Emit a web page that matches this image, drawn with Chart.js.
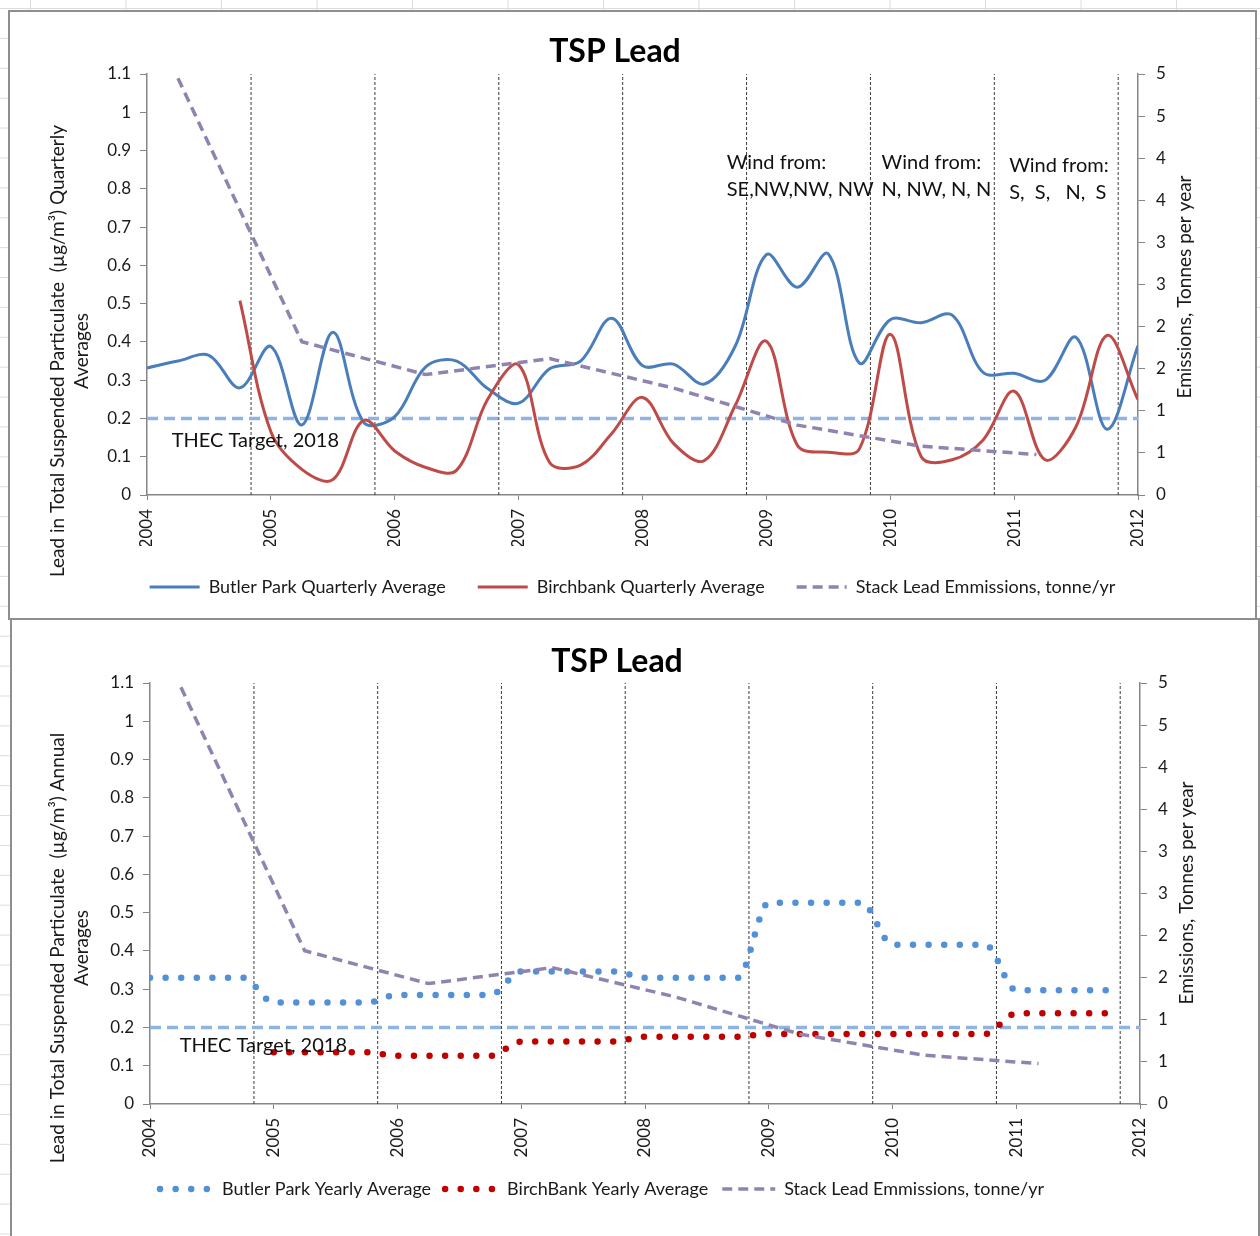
<!DOCTYPE html>
<html>
<head>
<meta charset="utf-8">
<title>TSP Lead</title>
<script src="https://cdn.jsdelivr.net/npm/chart.js@4.4.1/dist/chart.umd.min.js"></script>
<style>
  html, body { margin: 0; padding: 0; }
  body {
    width: 1260px; height: 1236px; overflow: hidden; position: relative;
    background-color: #fff;
    /* spreadsheet cell grid peeking out round the charts */
    background-image:
      linear-gradient(to right, #dcdcdc 1px, transparent 1px),
      linear-gradient(to bottom, #dcdcdc 1px, transparent 1px);
    background-size: 95.5px 100%, 100% 29.9px;
    background-position: 30px 0, 0 8px;
  }
  .frame { position: absolute; background: #fff; outline: 2px solid #8e8e8e; }
  #topFrame { left: 10px; top: 12px; width: 1245px; height: 606px; }
  #bottomFrame { left: 12px; top: 620px; width: 1246px; height: 620px; }
  canvas { display: block; }
</style>
</head>
<body>
<div class="frame" id="topFrame"><canvas id="quarterlyChart" width="1245" height="606"></canvas></div>
<div class="frame" id="bottomFrame"><canvas id="yearlyChart" width="1246" height="620"></canvas></div>

<script>
// ---------- data ----------
const yearTicks = ['2004', '2005', '2006', '2007', '2008', '2009', '2010', '2011', '2012'];
const leftTicks = ['0', '0.1', '0.2', '0.3', '0.4', '0.5', '0.6', '0.7', '0.8', '0.9', '1', '1.1'];
const rightTicks = ['0', '1', '1', '2', '2', '3', '3', '4', '4', '5', '5'];

const quarters = [
  '2004-Q1', '2004-Q2', '2004-Q3', '2004-Q4',
  '2005-Q1', '2005-Q2', '2005-Q3', '2005-Q4',
  '2006-Q1', '2006-Q2', '2006-Q3', '2006-Q4',
  '2007-Q1', '2007-Q2', '2007-Q3', '2007-Q4',
  '2008-Q1', '2008-Q2', '2008-Q3', '2008-Q4',
  '2009-Q1', '2009-Q2', '2009-Q3', '2009-Q4',
  '2010-Q1', '2010-Q2', '2010-Q3', '2010-Q4',
  '2011-Q1', '2011-Q2', '2011-Q3', '2011-Q4',
  '2012-Q1'
];

// µg/m³, one value per quarter
const butlerQuarterly = [
  0.332, 0.350, 0.365, 0.280,
  0.388, 0.183, 0.425, 0.190,
  0.205, 0.335, 0.350, 0.278,
  0.240, 0.330, 0.350, 0.462,
  0.338, 0.342, 0.290, 0.390,
  0.628, 0.543, 0.630, 0.345,
  0.458, 0.450, 0.470, 0.320,
  0.318, 0.300, 0.412, 0.172,
  0.390
];
const birchQuarterly = [
  null, null, null, 0.508,
  0.165, 0.067, 0.040, 0.195,
  0.115, 0.072, 0.065, 0.250,
  0.340, 0.085, 0.078, 0.160,
  0.255, 0.135, 0.090, 0.235,
  0.402, 0.130, 0.112, 0.120,
  0.420, 0.100, 0.092, 0.144,
  0.271, 0.092, 0.179, 0.417,
  0.249
];

// yearly averages, plotted at every quarter of the year
const butlerYearly = [
  0.330, 0.330, 0.330, 0.330,
  0.265, 0.265, 0.265, 0.265,
  0.285, 0.285, 0.285, 0.285,
  0.346, 0.346, 0.346, 0.346,
  0.330, 0.330, 0.330, 0.330,
  0.526, 0.526, 0.526, 0.526,
  0.416, 0.416, 0.416, 0.416,
  0.297, 0.297, 0.297, 0.297,
  null
];
const birchYearly = [
  null, null, null, null,
  0.135, 0.135, 0.135, 0.135,
  0.126, 0.126, 0.126, 0.126,
  0.163, 0.163, 0.163, 0.163,
  0.176, 0.176, 0.176, 0.176,
  0.183, 0.183, 0.183, 0.183,
  0.183, 0.183, 0.183, 0.183,
  0.237, 0.237, 0.237, 0.237,
  null
];

// stack emissions, tonnes per year (right axis)
const emissionYears = [2004.25, 2005.25, 2006.25, 2007.25, 2008.25, 2009.25, 2010.25, 2011.18];
const emissionTonnes = [4.95, 1.82, 1.43, 1.62, 1.27, 0.83, 0.58, 0.48];

const targetLevel = 0.2;
const dividerYears = [2004.84, 2005.84, 2006.84, 2007.84, 2008.84, 2009.84, 2010.84, 2011.84];

// ---------- helpers ----------
const AXIS = '#868686';
const FONT = 'Lato';
Chart.defaults.font.family = FONT;
Chart.defaults.color = '#1a1a1a';

function quarterToYear(q) {
  const [y, n] = q.split('-Q');
  return Number(y) + (Number(n) - 1) / 4;
}
function series(values) {
  return values.map((v, i) => ({ x: quarterToYear(quarters[i]), y: v }));
}
function emissionPoints() {
  return emissionYears.map((x, i) => ({ x, y: emissionTonnes[i] }));
}
function targetPoints() {
  return [{ x: 2004, y: targetLevel }, { x: 2012, y: targetLevel }];
}
function dividerPoints() {
  return dividerYears.flatMap(x => [{ x, y: 0 }, { x, y: 1.1 }, { x, y: null }]);
}

function helperSets() {
  return [
    { label: '', data: targetPoints(), borderColor: '#8EB4E3', borderWidth: 3.5,
      borderDash: [11, 6], pointRadius: 0, order: 5 },
    { label: '', data: dividerPoints(), borderColor: '#3a3a3a', borderWidth: 1,
      borderDash: [3, 2], pointRadius: 0, order: 6 }
  ];
}

function scales(L) {
  return {
    x: {
      type: 'linear', min: 2004, max: 2012,
      afterFit: s => { s.height = L.xHeight; },
      grid: { drawOnChartArea: false, tickLength: 5, tickColor: AXIS },
      border: { color: AXIS, width: 1.5 },
      ticks: { stepSize: 1, autoSkip: false, minRotation: 90, maxRotation: 90, padding: 9,
               font: { size: 17 }, callback: (v, i) => yearTicks[i] }
    },
    y: {
      position: 'left', min: 0, max: 1.1,
      afterFit: s => { s.width = L.yWidth; },
      grid: { drawOnChartArea: false, tickLength: 7, tickColor: AXIS },
      border: { color: AXIS, width: 1.5 },
      ticks: { stepSize: 0.1, padding: 9, font: { size: 17 }, callback: (v, i) => leftTicks[i] }
    },
    y2: {
      position: 'right', min: 0, max: 5,
      afterFit: s => { s.width = L.y2Width; },
      grid: { drawOnChartArea: false, tickLength: 7, tickColor: AXIS },
      border: { color: AXIS, width: 1.5 },
      ticks: { stepSize: 0.5, padding: 11, font: { size: 17 }, callback: (v, i) => rightTicks[i] }
    }
  };
}

// title, axis titles and notes drawn as canvas text
const textPlugin = {
  id: 'texts',
  afterDraw(chart, args, o) {
    const { ctx, scales: sc } = chart;
    ctx.save();
    ctx.fillStyle = '#000';
    ctx.textBaseline = 'middle';

    ctx.textAlign = 'center';
    ctx.font = 'bold 32px ' + FONT;
    ctx.fillText(o.title, o.titleX, o.titleY);

    ctx.font = '19px ' + FONT;
    ctx.fillStyle = '#1a1a1a';
    o.leftTitle.forEach((line, i) => {
      ctx.save();
      ctx.translate(o.leftTitleX + i * 24, o.leftTitleY);
      ctx.rotate(-Math.PI / 2);
      ctx.fillText(line, 0, 0);
      ctx.restore();
    });
    ctx.save();
    ctx.translate(o.rightTitleX, o.rightTitleY);
    ctx.rotate(-Math.PI / 2);
    ctx.fillText(o.rightTitle, 0, 0);
    ctx.restore();

    ctx.fillStyle = '#111';
    ctx.textAlign = 'left';
    o.notes.forEach(n => {
      ctx.font = n.size + 'px ' + FONT;
      const px = sc.x.getPixelForValue(n.x);
      const py = sc.y.getPixelForValue(n.y);
      n.lines.forEach((line, i) => ctx.fillText(line, px, py + i * 27));
    });
    ctx.restore();
  }
};

// legend samples keep each series' own dash pattern
function legendOpts(gap, sampleWidth) {
  return {
    position: 'bottom',
    labels: {
      usePointStyle: true, pointStyle: 'line', pointStyleWidth: sampleWidth,
      padding: gap, font: { size: 18 }, color: '#1a1a1a',
      generateLabels: chart => chart.data.datasets
        .map((ds, i) => ({
          text: ds.label, datasetIndex: i, hidden: false,
          strokeStyle: ds.borderColor, fillStyle: ds.borderColor,
          lineWidth: ds.borderWidth, lineDash: ds.borderDash || [],
          lineCap: ds.borderCapStyle || 'butt', pointStyle: 'line', fontColor: '#1a1a1a'
        }))
        .filter(item => item.text !== '')
    }
  };
}

// ---------- quarterly chart ----------
new Chart(document.getElementById('quarterlyChart'), {
  type: 'line',
  data: {
    datasets: [
      { label: 'Butler Park Quarterly Average', data: series(butlerQuarterly),
        borderColor: '#4A7EBB', borderWidth: 3, tension: 0.35, pointRadius: 0, order: 3 },
      { label: 'Birchbank Quarterly Average', data: series(birchQuarterly),
        borderColor: '#BE4B48', borderWidth: 3, tension: 0.35, pointRadius: 0, order: 2 },
      { label: 'Stack Lead Emmissions, tonne/yr', data: emissionPoints(), yAxisID: 'y2',
        borderColor: '#9183AF', borderWidth: 3.5, borderDash: [10, 6], tension: 0, pointRadius: 0, order: 1 },
      ...helperSets()
    ]
  },
  options: {
    responsive: false, animation: false, events: [],
    layout: { padding: { top: 62, bottom: 12, left: 0, right: 0 } },
    scales: scales({ xHeight: 51, yWidth: 137, y2Width: 117 }),
    plugins: {
      legend: legendOpts(32, 50),
      tooltip: { enabled: false },
      texts: {
        title: 'TSP Lead', titleX: 605, titleY: 40,
        leftTitle: ['Lead in Total Suspended Particulate  (\u00b5g/m\u00b3) Quarterly', 'Averages'],
        leftTitleX: 48, leftTitleY: 339,
        rightTitle: 'Emissions, Tonnes per year', rightTitleX: 1175, rightTitleY: 275,
        notes: [
          { x: 2008.68, y: 0.8675, size: 20, lines: ['Wind from:', 'SE,NW,NW, NW'] },
          { x: 2009.93, y: 0.8675, size: 20, lines: ['Wind from:', 'N, NW, N, N'] },
          { x: 2010.96, y: 0.862, size: 20, lines: ['Wind from:', 'S,  S,   N,  S'] },
          { x: 2004.20, y: 0.141, size: 20, lines: ['THEC Target, 2018'] }
        ]
      }
    }
  },
  plugins: [textPlugin]
});

// ---------- yearly chart ----------
new Chart(document.getElementById('yearlyChart'), {
  type: 'line',
  data: {
    datasets: [
      { label: 'Butler Park Yearly Average', data: series(butlerYearly),
        borderColor: '#5290DA', borderWidth: 6.5, borderDash: [0, 15.6], borderCapStyle: 'round',
        cubicInterpolationMode: 'monotone', pointRadius: 0, order: 3 },
      { label: 'BirchBank Yearly Average', data: series(birchYearly),
        borderColor: '#C00000', borderWidth: 6.5, borderDash: [0, 15.6], borderCapStyle: 'round',
        cubicInterpolationMode: 'monotone', pointRadius: 0, order: 2 },
      { label: 'Stack Lead Emmissions, tonne/yr', data: emissionPoints(), yAxisID: 'y2',
        borderColor: '#9183AF', borderWidth: 3.5, borderDash: [10, 6], tension: 0, pointRadius: 0, order: 1 },
      ...helperSets()
    ]
  },
  options: {
    responsive: false, animation: false, events: [],
    layout: { padding: { top: 63, bottom: 32, left: 0, right: 66 } },
    scales: scales({ xHeight: 62, yWidth: 138, y2Width: 52 }),
    plugins: {
      legend: legendOpts(14, 53),
      tooltip: { enabled: false },
      texts: {
        title: 'TSP Lead', titleX: 605, titleY: 42,
        leftTitle: ['Lead in Total Suspended Particulate  (\u00b5g/m\u00b3) Annual', 'Averages'],
        leftTitleX: 46, leftTitleY: 328,
        rightTitle: 'Emissions, Tonnes per year', rightTitleX: 1175, rightTitleY: 273,
        notes: [
          { x: 2004.24, y: 0.152, size: 20, lines: ['THEC Target, 2018'] }
        ]
      }
    }
  },
  plugins: [textPlugin]
});
</script>
</body>
</html>
